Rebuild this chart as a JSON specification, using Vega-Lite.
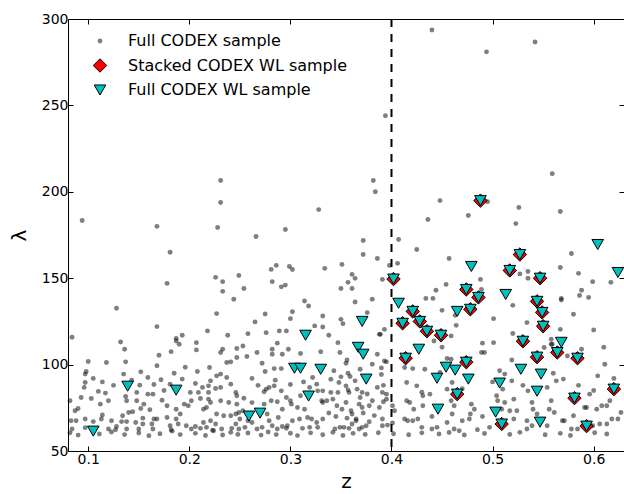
{
"$schema": "https://vega.github.io/schema/vega-lite/v6.json",
"width": 556, "height": 432,
"autosize": {"type": "none"},
"padding": {"left": 68, "top": 19, "right": 0, "bottom": 43},
"background": "white",
"config": {
  "view": {"stroke": null},
  "font": "DejaVu Sans",
  "mark": {"opacity": 1},
  "axis": {"domainColor": "black", "domainWidth": 1, "tickColor": "black", "tickWidth": 1, "tickSize": -5, "labelColor": "black", "labelFont": "DejaVu Sans", "labelFontSize": 14, "titleFont": "DejaVu Sans", "titleFontSize": 20, "titleFontWeight": "normal", "titleColor": "black", "grid": false}
},
"datasets": {
  "vline": [{"z": 0.4}],
  "frame": [{"lam": 50}, {"lam": 300}],
  "pts": [
{"z":0.394,"lam":244,"s":"g"},{"z":0.440,"lam":293.6,"s":"g"},{"z":0.542,"lam":286.7,"s":"g"},{"z":0.494,"lam":281,"s":"g"},{"z":0.094,"lam":183.4,"s":"g"},{"z":0.168,"lam":180,"s":"g"},{"z":0.181,"lam":165,"s":"g"},{"z":0.178,"lam":147,"s":"g"},{"z":0.231,"lam":206.5,"s":"g"},{"z":0.231,"lam":193.8,"s":"g"},{"z":0.228,"lam":179.3,"s":"g"},{"z":0.226,"lam":150.5,"s":"g"},{"z":0.233,"lam":148,"s":"g"},{"z":0.249,"lam":151.6,"s":"g"},{"z":0.254,"lam":144,"s":"g"},{"z":0.266,"lam":174.1,"s":"g"},{"z":0.281,"lam":155.1,"s":"g"},{"z":0.286,"lam":157.4,"s":"g"},{"z":0.282,"lam":148,"s":"g"},{"z":0.291,"lam":145,"s":"g"},{"z":0.295,"lam":146,"s":"g"},{"z":0.295,"lam":178.2,"s":"g"},{"z":0.299,"lam":156.8,"s":"g"},{"z":0.302,"lam":155,"s":"g"},{"z":0.328,"lam":189.7,"s":"g"},{"z":0.334,"lam":155.7,"s":"g"},{"z":0.351,"lam":158,"s":"g"},{"z":0.357,"lam":147.6,"s":"g"},{"z":0.361,"lam":152.2,"s":"g"},{"z":0.364,"lam":149.9,"s":"g"},{"z":0.361,"lam":144,"s":"g"},{"z":0.350,"lam":144,"s":"g"},{"z":0.372,"lam":171.8,"s":"g"},{"z":0.372,"lam":163.7,"s":"g"},{"z":0.382,"lam":206.5,"s":"g"},{"z":0.384,"lam":200,"s":"g"},{"z":0.386,"lam":161.4,"s":"g"},{"z":0.391,"lam":149.3,"s":"g"},{"z":0.398,"lam":157.4,"s":"g"},{"z":0.084,"lam":115.8,"s":"g"},{"z":0.128,"lam":132.6,"s":"g"},{"z":0.233,"lam":142.4,"s":"g"},{"z":0.244,"lam":137.8,"s":"g"},
{"z":0.559,"lam":210.5,"s":"g"},{"z":0.448,"lam":194.9,"s":"g"},{"z":0.436,"lam":184,"s":"g"},{"z":0.476,"lam":186.3,"s":"g"},{"z":0.526,"lam":190.9,"s":"g"},{"z":0.523,"lam":181.6,"s":"g"},{"z":0.567,"lam":188.6,"s":"g"},{"z":0.495,"lam":194.3,"s":"g"},{"z":0.407,"lam":172.4,"s":"g"},{"z":0.425,"lam":166.6,"s":"g"},{"z":0.457,"lam":161.4,"s":"g"},{"z":0.406,"lam":158.6,"s":"g"},{"z":0.578,"lam":164.3,"s":"g"},{"z":0.567,"lam":156.2,"s":"g"},{"z":0.585,"lam":152.8,"s":"g"},{"z":0.535,"lam":153.9,"s":"g"},{"z":0.527,"lam":152.5,"s":"g"},{"z":0.535,"lam":150,"s":"g"},{"z":0.488,"lam":149.3,"s":"g"},{"z":0.454,"lam":146.4,"s":"g"},{"z":0.444,"lam":143,"s":"g"},{"z":0.434,"lam":138.3,"s":"g"},{"z":0.441,"lam":138.3,"s":"g"},{"z":0.489,"lam":143.5,"s":"g"},{"z":0.599,"lam":148,"s":"g"},{"z":0.617,"lam":147.6,"s":"g"},{"z":0.588,"lam":143,"s":"g"},{"z":0.586,"lam":140,"s":"g"},{"z":0.595,"lam":138.9,"s":"g"},{"z":0.568,"lam":138.3,"s":"g"},
{"z":0.450,"lam":131.4,"s":"g"},{"z":0.463,"lam":128.5,"s":"g"},{"z":0.464,"lam":122.7,"s":"g"},{"z":0.459,"lam":116.6,"s":"g"},{"z":0.442,"lam":113.7,"s":"g"},{"z":0.501,"lam":126.6,"s":"g"},{"z":0.520,"lam":134.3,"s":"g"},{"z":0.534,"lam":124.3,"s":"g"},{"z":0.568,"lam":137.4,"s":"g"},{"z":0.580,"lam":129.1,"s":"g"},{"z":0.567,"lam":120.4,"s":"g"},{"z":0.388,"lam":117.5,"s":"g"},{"z":0.558,"lam":114.7,"s":"g"},{"z":0.559,"lam":111.8,"s":"g"},{"z":0.393,"lam":102.1,"s":"g"},{"z":0.392,"lam":78.5,"s":"g"},{"z":0.401,"lam":76.2,"s":"g"},{"z":0.401,"lam":66.2,"s":"g"},{"z":0.391,"lam":64.6,"s":"g"},
{"z":0.570,"lam":91.6,"s":"g"},{"z":0.596,"lam":82.9,"s":"g"},{"z":0.603,"lam":74.2,"s":"g"},{"z":0.591,"lam":75.2,"s":"g"},{"z":0.580,"lam":70.4,"s":"g"},{"z":0.571,"lam":67.5,"s":"g"},{"z":0.561,"lam":72.3,"s":"g"},{"z":0.554,"lam":64.6,"s":"g"},{"z":0.599,"lam":64.6,"s":"g"},{"z":0.606,"lam":65.6,"s":"g"},{"z":0.627,"lam":72.3,"s":"g"},{"z":0.608,"lam":76.2,"s":"g"},
{"z":0.168,"lam":122.0,"s":"g"},{"z":0.187,"lam":115.2,"s":"g"},{"z":0.193,"lam":117.0,"s":"g"},{"z":0.218,"lam":119.5,"s":"g"},{"z":0.227,"lam":129.5,"s":"g"},{"z":0.238,"lam":117.0,"s":"g"},{"z":0.258,"lam":117.9,"s":"g"},{"z":0.265,"lam":124.7,"s":"g"},{"z":0.275,"lam":129.3,"s":"g"},{"z":0.276,"lam":118.5,"s":"g"},{"z":0.289,"lam":119.5,"s":"g"},{"z":0.296,"lam":119.5,"s":"g"},{"z":0.300,"lam":126.6,"s":"g"},{"z":0.302,"lam":130.6,"s":"g"},{"z":0.314,"lam":136.8,"s":"g"},{"z":0.318,"lam":133.9,"s":"g"},{"z":0.324,"lam":122.4,"s":"g"},{"z":0.332,"lam":128.1,"s":"g"},{"z":0.332,"lam":121.8,"s":"g"},{"z":0.338,"lam":117.0,"s":"g"},{"z":0.350,"lam":126.2,"s":"g"},{"z":0.352,"lam":123.7,"s":"g"},{"z":0.364,"lam":136.2,"s":"g"},{"z":0.381,"lam":137.8,"s":"g"},{"z":0.376,"lam":130.1,"s":"g"},{"z":0.389,"lam":117.5,"s":"g"},{"z":0.393,"lam":120.4,"s":"g"},
{"z":0.132,"lam":113.1,"s":"g"},{"z":0.136,"lam":108.9,"s":"g"},{"z":0.187,"lam":113.7,"s":"g"},{"z":0.190,"lam":111.8,"s":"g"},{"z":0.207,"lam":112.7,"s":"g"},{"z":0.207,"lam":108.5,"s":"g"},{"z":0.182,"lam":107.5,"s":"g"},{"z":0.170,"lam":105.4,"s":"g"},{"z":0.137,"lam":101.6,"s":"g"},{"z":0.118,"lam":101.2,"s":"g"},{"z":0.100,"lam":101.8,"s":"g"},{"z":0.098,"lam":96.0,"s":"g"},{"z":0.097,"lam":94.5,"s":"g"},{"z":0.097,"lam":89.6,"s":"g"},{"z":0.096,"lam":86.8,"s":"g"},{"z":0.114,"lam":90.0,"s":"g"},{"z":0.135,"lam":94.5,"s":"g"},{"z":0.152,"lam":95.8,"s":"g"},{"z":0.168,"lam":99.3,"s":"g"},{"z":0.159,"lam":92.5,"s":"g"},{"z":0.172,"lam":91.2,"s":"g"},{"z":0.181,"lam":88.7,"s":"g"},{"z":0.193,"lam":91.6,"s":"g"},{"z":0.206,"lam":89.1,"s":"g"},{"z":0.213,"lam":86.8,"s":"g"},{"z":0.209,"lam":83.9,"s":"g"},{"z":0.201,"lam":83.9,"s":"g"},{"z":0.164,"lam":82.9,"s":"g"},{"z":0.159,"lam":82.9,"s":"g"},{"z":0.148,"lam":83.9,"s":"g"},{"z":0.151,"lam":88.1,"s":"g"},{"z":0.137,"lam":81.6,"s":"g"},{"z":0.138,"lam":79.1,"s":"g"},{"z":0.148,"lam":79.1,"s":"g"},{"z":0.155,"lam":77.1,"s":"g"},{"z":0.152,"lam":74.6,"s":"g"},{"z":0.144,"lam":72.7,"s":"g"},{"z":0.140,"lam":72.3,"s":"g"},{"z":0.134,"lam":70.4,"s":"g"},{"z":0.117,"lam":83.5,"s":"g"},{"z":0.120,"lam":79.1,"s":"g"},{"z":0.112,"lam":77.1,"s":"g"},{"z":0.103,"lam":80.4,"s":"g"},{"z":0.093,"lam":81.0,"s":"g"},{"z":0.082,"lam":79.1,"s":"g"},{"z":0.087,"lam":73.3,"s":"g"},{"z":0.090,"lam":74.6,"s":"g"},{"z":0.083,"lam":67.5,"s":"g"},{"z":0.088,"lam":67.5,"s":"g"},{"z":0.097,"lam":68.5,"s":"g"},{"z":0.105,"lam":67.0,"s":"g"},{"z":0.084,"lam":62.7,"s":"g"},{"z":0.114,"lam":70.8,"s":"g"},{"z":0.113,"lam":68.5,"s":"g"},{"z":0.123,"lam":67.5,"s":"g"},{"z":0.128,"lam":64.2,"s":"g"},{"z":0.127,"lam":62.3,"s":"g"},{"z":0.120,"lam":62.7,"s":"g"},{"z":0.133,"lam":67.0,"s":"g"},{"z":0.138,"lam":67.0,"s":"g"},{"z":0.138,"lam":62.7,"s":"g"},{"z":0.147,"lam":66.5,"s":"g"},{"z":0.150,"lam":62.7,"s":"g"},{"z":0.154,"lam":65.6,"s":"g"},{"z":0.154,"lam":69.0,"s":"g"},{"z":0.161,"lam":73.9,"s":"g"},{"z":0.165,"lam":68.5,"s":"g"},{"z":0.163,"lam":65.6,"s":"g"},{"z":0.164,"lam":62.7,"s":"g"},{"z":0.168,"lam":68.5,"s":"g"},{"z":0.173,"lam":79.4,"s":"g"},{"z":0.178,"lam":76.2,"s":"g"},{"z":0.178,"lam":69.4,"s":"g"},{"z":0.181,"lam":64.6,"s":"g"},{"z":0.182,"lam":62.3,"s":"g"},{"z":0.187,"lam":68.5,"s":"g"},{"z":0.189,"lam":65.6,"s":"g"},{"z":0.191,"lam":71.4,"s":"g"},{"z":0.187,"lam":74.2,"s":"g"},{"z":0.195,"lam":77.1,"s":"g"},{"z":0.199,"lam":76.2,"s":"g"},{"z":0.202,"lam":79.1,"s":"g"},{"z":0.211,"lam":80.4,"s":"g"},{"z":0.214,"lam":74.2,"s":"g"},{"z":0.217,"lam":75.2,"s":"g"},{"z":0.219,"lam":80.0,"s":"g"},{"z":0.221,"lam":78.1,"s":"g"},{"z":0.231,"lam":79.1,"s":"g"},{"z":0.219,"lam":83.9,"s":"g"},{"z":0.219,"lam":87.7,"s":"g"},{"z":0.221,"lam":90.6,"s":"g"},{"z":0.227,"lam":93.5,"s":"g"},{"z":0.231,"lam":94.5,"s":"g"},{"z":0.237,"lam":92.5,"s":"g"},{"z":0.241,"lam":88.7,"s":"g"},{"z":0.246,"lam":83.9,"s":"g"},{"z":0.247,"lam":82.0,"s":"g"},{"z":0.239,"lam":78.1,"s":"g"},{"z":0.247,"lam":77.1,"s":"g"},{"z":0.227,"lam":71.4,"s":"g"},{"z":0.234,"lam":70.4,"s":"g"},{"z":0.241,"lam":70.4,"s":"g"},{"z":0.246,"lam":71.4,"s":"g"},{"z":0.249,"lam":72.3,"s":"g"},{"z":0.253,"lam":73.3,"s":"g"},{"z":0.250,"lam":68.5,"s":"g"},{"z":0.246,"lam":65.6,"s":"g"},{"z":0.242,"lam":63.1,"s":"g"},{"z":0.232,"lam":62.7,"s":"g"},{"z":0.226,"lam":65.6,"s":"g"},{"z":0.221,"lam":67.5,"s":"g"},{"z":0.217,"lam":63.7,"s":"g"},{"z":0.214,"lam":66.5,"s":"g"},{"z":0.211,"lam":63.1,"s":"g"},{"z":0.206,"lam":64.2,"s":"g"},{"z":0.202,"lam":62.7,"s":"g"},{"z":0.197,"lam":64.6,"s":"g"},{"z":0.224,"lam":61.7,"s":"g"},{"z":0.249,"lam":62.7,"s":"g"},{"z":0.255,"lam":63.7,"s":"g"},{"z":0.258,"lam":67.5,"s":"g"},{"z":0.231,"lam":107.0,"s":"g"},{"z":0.233,"lam":108.9,"s":"g"},{"z":0.241,"lam":101.6,"s":"g"},{"z":0.237,"lam":101.2,"s":"g"},{"z":0.247,"lam":104.1,"s":"g"},{"z":0.247,"lam":109.3,"s":"g"},{"z":0.253,"lam":110.8,"s":"g"},{"z":0.257,"lam":104.7,"s":"g"},{"z":0.220,"lam":98.3,"s":"g"},{"z":0.231,"lam":86.8,"s":"g"},{"z":0.226,"lam":86.2,"s":"g"},
{"z":0.287,"lam":112.4,"s":"g"},{"z":0.282,"lam":108.9,"s":"g"},{"z":0.282,"lam":106.0,"s":"g"},{"z":0.267,"lam":107.0,"s":"g"},{"z":0.272,"lam":100.8,"s":"g"},{"z":0.292,"lam":106.0,"s":"g"},{"z":0.298,"lam":108.9,"s":"g"},{"z":0.310,"lam":106.4,"s":"g"},{"z":0.330,"lam":107.4,"s":"g"},{"z":0.347,"lam":112.7,"s":"g"},{"z":0.349,"lam":107.0,"s":"g"},{"z":0.356,"lam":102.7,"s":"g"},{"z":0.355,"lam":100.8,"s":"g"},{"z":0.284,"lam":97.7,"s":"g"},{"z":0.291,"lam":97.7,"s":"g"},{"z":0.343,"lam":96.4,"s":"g"},{"z":0.350,"lam":92.9,"s":"g"},{"z":0.357,"lam":95.0,"s":"g"},{"z":0.359,"lam":93.1,"s":"g"},{"z":0.369,"lam":97.3,"s":"g"},{"z":0.381,"lam":100.2,"s":"g"},{"z":0.386,"lam":106.0,"s":"g"},{"z":0.390,"lam":98.1,"s":"g"},{"z":0.390,"lam":94.3,"s":"g"},{"z":0.395,"lam":101.6,"s":"g"},
{"z":0.276,"lam":85.8,"s":"g"},{"z":0.274,"lam":84.3,"s":"g"},{"z":0.279,"lam":86.8,"s":"g"},{"z":0.291,"lam":84.8,"s":"g"},{"z":0.284,"lam":87.7,"s":"g"},{"z":0.319,"lam":86.8,"s":"g"},{"z":0.326,"lam":88.7,"s":"g"},{"z":0.327,"lam":84.8,"s":"g"},{"z":0.332,"lam":84.8,"s":"g"},{"z":0.340,"lam":83.9,"s":"g"},{"z":0.348,"lam":89.6,"s":"g"},{"z":0.347,"lam":83.9,"s":"g"},{"z":0.355,"lam":87.7,"s":"g"},{"z":0.357,"lam":85.4,"s":"g"},{"z":0.358,"lam":83.9,"s":"g"},{"z":0.364,"lam":90.6,"s":"g"},{"z":0.366,"lam":85.8,"s":"g"},{"z":0.371,"lam":83.9,"s":"g"},{"z":0.369,"lam":81.0,"s":"g"},{"z":0.386,"lam":86.8,"s":"g"},{"z":0.391,"lam":83.9,"s":"g"},{"z":0.395,"lam":82.9,"s":"g"},{"z":0.395,"lam":80.0,"s":"g"},
{"z":0.281,"lam":79.1,"s":"g"},{"z":0.274,"lam":77.1,"s":"g"},{"z":0.287,"lam":78.5,"s":"g"},{"z":0.296,"lam":81.0,"s":"g"},{"z":0.300,"lam":79.1,"s":"g"},{"z":0.301,"lam":77.1,"s":"g"},{"z":0.307,"lam":75.2,"s":"g"},{"z":0.314,"lam":74.2,"s":"g"},{"z":0.317,"lam":69.4,"s":"g"},{"z":0.321,"lam":68.5,"s":"g"},{"z":0.331,"lam":79.1,"s":"g"},{"z":0.332,"lam":78.1,"s":"g"},{"z":0.336,"lam":79.1,"s":"g"},{"z":0.342,"lam":80.0,"s":"g"},{"z":0.346,"lam":76.2,"s":"g"},{"z":0.351,"lam":74.2,"s":"g"},{"z":0.355,"lam":78.1,"s":"g"},{"z":0.360,"lam":73.3,"s":"g"},{"z":0.361,"lam":71.4,"s":"g"},{"z":0.365,"lam":68.5,"s":"g"},{"z":0.368,"lam":77.1,"s":"g"},{"z":0.371,"lam":75.2,"s":"g"},{"z":0.378,"lam":76.2,"s":"g"},{"z":0.381,"lam":79.1,"s":"g"},{"z":0.388,"lam":75.2,"s":"g"},
{"z":0.262,"lam":66.5,"s":"g"},{"z":0.267,"lam":62.7,"s":"g"},{"z":0.272,"lam":63.7,"s":"g"},{"z":0.279,"lam":67.5,"s":"g"},{"z":0.282,"lam":64.6,"s":"g"},{"z":0.287,"lam":62.7,"s":"g"},{"z":0.292,"lam":64.2,"s":"g"},{"z":0.296,"lam":63.1,"s":"g"},{"z":0.297,"lam":64.6,"s":"g"},{"z":0.302,"lam":67.5,"s":"g"},{"z":0.309,"lam":68.5,"s":"g"},{"z":0.312,"lam":63.1,"s":"g"},{"z":0.319,"lam":63.7,"s":"g"},{"z":0.326,"lam":66.5,"s":"g"},{"z":0.327,"lam":63.7,"s":"g"},{"z":0.332,"lam":68.5,"s":"g"},{"z":0.344,"lam":62.7,"s":"g"},{"z":0.349,"lam":63.7,"s":"g"},{"z":0.353,"lam":63.7,"s":"g"},{"z":0.358,"lam":63.1,"s":"g"},{"z":0.361,"lam":65.6,"s":"g"},{"z":0.365,"lam":67.5,"s":"g"},{"z":0.368,"lam":62.7,"s":"g"},{"z":0.371,"lam":63.7,"s":"g"},{"z":0.375,"lam":64.6,"s":"g"},{"z":0.378,"lam":66.9,"s":"g"},{"z":0.391,"lam":68.5,"s":"g"},{"z":0.396,"lam":65.0,"s":"g"},{"z":0.292,"lam":74.2,"s":"g"},{"z":0.288,"lam":69.4,"s":"g"},{"z":0.277,"lam":71.4,"s":"g"},
{"z":0.413,"lam":98.3,"s":"g"},{"z":0.421,"lam":97.7,"s":"g"},{"z":0.433,"lam":97.3,"s":"g"},{"z":0.415,"lam":89.6,"s":"g"},{"z":0.425,"lam":87.7,"s":"g"},{"z":0.431,"lam":82.0,"s":"g"},{"z":0.438,"lam":82.9,"s":"g"},{"z":0.415,"lam":79.1,"s":"g"},{"z":0.418,"lam":78.1,"s":"g"},{"z":0.422,"lam":74.2,"s":"g"},{"z":0.431,"lam":76.2,"s":"g"},{"z":0.413,"lam":68.5,"s":"g"},{"z":0.416,"lam":67.5,"s":"g"},{"z":0.421,"lam":67.5,"s":"g"},{"z":0.426,"lam":68.5,"s":"g"},{"z":0.430,"lam":63.7,"s":"g"},{"z":0.440,"lam":62.7,"s":"g"},{"z":0.445,"lam":63.7,"s":"g"},{"z":0.403,"lam":73.3,"s":"g"},
{"z":0.490,"lam":112.4,"s":"g"},{"z":0.492,"lam":107.0,"s":"g"},{"z":0.489,"lam":107.0,"s":"g"},{"z":0.501,"lam":112.7,"s":"g"},{"z":0.455,"lam":103.5,"s":"g"},{"z":0.459,"lam":103.1,"s":"g"},{"z":0.448,"lam":95.4,"s":"g"},{"z":0.460,"lam":89.6,"s":"g"},{"z":0.455,"lam":85.8,"s":"g"},{"z":0.459,"lam":79.1,"s":"g"},{"z":0.462,"lam":76.2,"s":"g"},{"z":0.479,"lam":77.1,"s":"g"},{"z":0.482,"lam":74.2,"s":"g"},{"z":0.478,"lam":71.4,"s":"g"},{"z":0.477,"lam":68.5,"s":"g"},{"z":0.470,"lam":67.5,"s":"g"},{"z":0.460,"lam":71.4,"s":"g"},{"z":0.455,"lam":66.5,"s":"g"},{"z":0.462,"lam":62.7,"s":"g"},{"z":0.467,"lam":61.7,"s":"g"},{"z":0.485,"lam":62.3,"s":"g"},{"z":0.507,"lam":96.4,"s":"g"},{"z":0.512,"lam":94.5,"s":"g"},{"z":0.510,"lam":85.8,"s":"g"},{"z":0.504,"lam":82.0,"s":"g"},{"z":0.505,"lam":79.1,"s":"g"},{"z":0.512,"lam":78.1,"s":"g"},{"z":0.509,"lam":74.2,"s":"g"},{"z":0.521,"lam":80.0,"s":"g"},{"z":0.524,"lam":73.3,"s":"g"},{"z":0.517,"lam":73.3,"s":"g"},{"z":0.521,"lam":68.5,"s":"g"},{"z":0.497,"lam":63.7,"s":"g"},{"z":0.519,"lam":90.6,"s":"g"},{"z":0.535,"lam":84.8,"s":"g"},{"z":0.539,"lam":78.1,"s":"g"},{"z":0.540,"lam":74.2,"s":"g"},{"z":0.544,"lam":71.4,"s":"g"},{"z":0.534,"lam":67.5,"s":"g"},{"z":0.534,"lam":62.7,"s":"g"},{"z":0.539,"lam":64.6,"s":"g"},{"z":0.556,"lam":74.2,"s":"g"},{"z":0.558,"lam":79.1,"s":"g"},{"z":0.554,"lam":86.8,"s":"g"},{"z":0.563,"lam":90.6,"s":"g"},{"z":0.569,"lam":67.5,"s":"g"},{"z":0.578,"lam":62.7,"s":"g"},{"z":0.584,"lam":62.7,"s":"g"},{"z":0.593,"lam":75.2,"s":"g"},{"z":0.613,"lam":65.6,"s":"g"},{"z":0.618,"lam":68.5,"s":"g"},{"z":0.624,"lam":68.5,"s":"g"},{"z":0.613,"lam":76.2,"s":"g"},{"z":0.616,"lam":79.1,"s":"g"},{"z":0.604,"lam":93.5,"s":"g"},{"z":0.611,"lam":100.2,"s":"g"},{"z":0.588,"lam":108.9,"s":"g"},{"z":0.574,"lam":105.0,"s":"g"},{"z":0.519,"lam":102.7,"s":"g"},{"z":0.558,"lam":111.8,"s":"g"},{"z":0.551,"lam":109.9,"s":"g"},
{"z":0.082,"lam":60.5,"s":"g"},{"z":0.090,"lam":59.2,"s":"g"},{"z":0.097,"lam":63.5,"s":"g"},{"z":0.111,"lam":59.8,"s":"g"},{"z":0.123,"lam":61.0,"s":"g"},{"z":0.136,"lam":59.5,"s":"g"},{"z":0.150,"lam":60.4,"s":"g"},{"z":0.160,"lam":58.8,"s":"g"},{"z":0.171,"lam":60.0,"s":"g"},{"z":0.183,"lam":61.5,"s":"g"},{"z":0.191,"lam":59.5,"s":"g"},{"z":0.206,"lam":60.2,"s":"g"},{"z":0.216,"lam":59.0,"s":"g"},{"z":0.223,"lam":62.0,"s":"g"},{"z":0.233,"lam":59.3,"s":"g"},{"z":0.241,"lam":60.8,"s":"g"},{"z":0.248,"lam":59.6,"s":"g"},{"z":0.258,"lam":60.4,"s":"g"},{"z":0.271,"lam":59.2,"s":"g"},{"z":0.278,"lam":61.0,"s":"g"},{"z":0.286,"lam":59.5,"s":"g"},{"z":0.300,"lam":60.3,"s":"g"},{"z":0.307,"lam":58.9,"s":"g"},{"z":0.320,"lam":60.5,"s":"g"},{"z":0.332,"lam":59.4,"s":"g"},{"z":0.342,"lam":60.8,"s":"g"},{"z":0.352,"lam":59.0,"s":"g"},{"z":0.362,"lam":60.2,"s":"g"},{"z":0.374,"lam":59.6,"s":"g"},{"z":0.387,"lam":60.6,"s":"g"},{"z":0.402,"lam":60.0,"s":"g"},{"z":0.417,"lam":59.4,"s":"g"},{"z":0.430,"lam":60.5,"s":"g"},{"z":0.447,"lam":59.8,"s":"g"},{"z":0.457,"lam":60.7,"s":"g"},{"z":0.472,"lam":59.3,"s":"g"},{"z":0.492,"lam":60.1,"s":"g"},{"z":0.517,"lam":59.6,"s":"g"},{"z":0.527,"lam":60.8,"s":"g"},{"z":0.552,"lam":59.4,"s":"g"},{"z":0.567,"lam":60.2,"s":"g"},{"z":0.577,"lam":59.0,"s":"g"},{"z":0.601,"lam":60.6,"s":"g"},{"z":0.613,"lam":59.8,"s":"g"},
{"z":0.262,"lam":78.0,"s":"g"},{"z":0.268,"lam":88.0,"s":"g"},{"z":0.285,"lam":91.0,"s":"g"},{"z":0.300,"lam":88.5,"s":"g"},{"z":0.310,"lam":82.0,"s":"g"},{"z":0.322,"lam":92.5,"s":"g"},{"z":0.338,"lam":72.0,"s":"g"},{"z":0.345,"lam":70.0,"s":"g"},{"z":0.356,"lam":69.0,"s":"g"},{"z":0.372,"lam":72.0,"s":"g"},{"z":0.383,"lam":70.5,"s":"g"},{"z":0.392,"lam":88.0,"s":"g"},{"z":0.376,"lam":83.0,"s":"g"},{"z":0.340,"lam":91.5,"s":"g"},{"z":0.313,"lam":90.0,"s":"g"},{"z":0.254,"lam":80.5,"s":"g"},{"z":0.262,"lam":92.0,"s":"g"},{"z":0.275,"lam":96.0,"s":"g"},{"z":0.105,"lam":92.0,"s":"g"},{"z":0.110,"lam":84.5,"s":"g"},{"z":0.125,"lam":88.0,"s":"g"},{"z":0.143,"lam":91.0,"s":"g"},{"z":0.165,"lam":88.5,"s":"g"},{"z":0.185,"lam":95.0,"s":"g"},{"z":0.196,"lam":98.5,"s":"g"},{"z":0.208,"lam":96.0,"s":"g"},{"z":0.175,"lam":85.0,"s":"g"},
{"z":0.430,"lam":84.0,"s":"g"},{"z":0.440,"lam":70.0,"s":"g"},{"z":0.490,"lam":70.0,"s":"g"},{"z":0.500,"lam":90.0,"s":"g"},{"z":0.530,"lam":88.0,"s":"g"},{"z":0.560,"lam":95.0,"s":"g"},{"z":0.585,"lam":88.0,"s":"g"},{"z":0.600,"lam":85.0,"s":"g"},{"z":0.620,"lam":92.0,"s":"g"},{"z":0.470,"lam":86.0,"s":"g"},{"z":0.450,"lam":110.0,"s":"g"},{"z":0.520,"lam":118.0,"s":"g"},{"z":0.600,"lam":120.0,"s":"g"},{"z":0.610,"lam":110.0,"s":"g"},
{"z":0.402,"lam":149.5,"s":"d"},{"z":0.488,"lam":194.9,"s":"d"},{"z":0.527,"lam":163.7,"s":"d"},{"z":0.517,"lam":154.5,"s":"d"},{"z":0.547,"lam":150,"s":"d"},{"z":0.474,"lam":143.5,"s":"d"},{"z":0.486,"lam":138.9,"s":"d"},{"z":0.544,"lam":136.6,"s":"d"},{"z":0.421,"lam":130.8,"s":"d"},{"z":0.478,"lam":132,"s":"d"},{"z":0.549,"lam":130.2,"s":"d"},{"z":0.428,"lam":125,"s":"d"},{"z":0.411,"lam":123.9,"s":"d"},{"z":0.550,"lam":122.2,"s":"d"},{"z":0.435,"lam":119.3,"s":"d"},{"z":0.449,"lam":117,"s":"d"},{"z":0.530,"lam":113.5,"s":"d"},{"z":0.564,"lam":107,"s":"d"},{"z":0.414,"lam":103.7,"s":"d"},{"z":0.474,"lam":101.4,"s":"d"},{"z":0.544,"lam":104.3,"s":"d"},{"z":0.584,"lam":103.7,"s":"d"},{"z":0.620,"lam":85.8,"s":"d"},{"z":0.465,"lam":82.9,"s":"d"},{"z":0.581,"lam":80.6,"s":"d"},{"z":0.509,"lam":65.6,"s":"d"},{"z":0.593,"lam":64.4,"s":"d"},
{"z":0.402,"lam":149.5,"s":"t"},{"z":0.488,"lam":194.9,"s":"t"},{"z":0.527,"lam":163.7,"s":"t"},{"z":0.479,"lam":156.8,"s":"t"},{"z":0.517,"lam":154.5,"s":"t"},{"z":0.547,"lam":150,"s":"t"},{"z":0.604,"lam":169.5,"s":"t"},{"z":0.624,"lam":153.3,"s":"t"},{"z":0.474,"lam":143.5,"s":"t"},{"z":0.486,"lam":138.9,"s":"t"},{"z":0.513,"lam":140.6,"s":"t"},{"z":0.407,"lam":135.5,"s":"t"},{"z":0.544,"lam":136.6,"s":"t"},{"z":0.421,"lam":130.8,"s":"t"},{"z":0.465,"lam":130.8,"s":"t"},{"z":0.478,"lam":132,"s":"t"},{"z":0.549,"lam":130.2,"s":"t"},{"z":0.428,"lam":125,"s":"t"},{"z":0.411,"lam":123.9,"s":"t"},{"z":0.550,"lam":122.2,"s":"t"},{"z":0.435,"lam":119.3,"s":"t"},{"z":0.449,"lam":117,"s":"t"},{"z":0.530,"lam":113.5,"s":"t"},{"z":0.568,"lam":112.9,"s":"t"},{"z":0.427,"lam":108.9,"s":"t"},{"z":0.564,"lam":107,"s":"t"},{"z":0.414,"lam":103.7,"s":"t"},{"z":0.474,"lam":101.4,"s":"t"},{"z":0.544,"lam":104.3,"s":"t"},{"z":0.584,"lam":103.7,"s":"t"},{"z":0.454,"lam":98.5,"s":"t"},{"z":0.463,"lam":96.8,"s":"t"},{"z":0.528,"lam":97.3,"s":"t"},{"z":0.548,"lam":94.5,"s":"t"},{"z":0.445,"lam":92.1,"s":"t"},{"z":0.476,"lam":91.6,"s":"t"},{"z":0.507,"lam":89.3,"s":"t"},{"z":0.620,"lam":85.8,"s":"t"},{"z":0.544,"lam":84.6,"s":"t"},{"z":0.465,"lam":82.9,"s":"t"},{"z":0.581,"lam":80.6,"s":"t"},{"z":0.446,"lam":74.2,"s":"t"},{"z":0.503,"lam":72.5,"s":"t"},{"z":0.509,"lam":65.6,"s":"t"},{"z":0.547,"lam":66.7,"s":"t"},{"z":0.593,"lam":64.4,"s":"t"},
{"z":0.105,"lam":61.5,"s":"t"},{"z":0.139,"lam":87.5,"s":"t"},{"z":0.187,"lam":85.2,"s":"t"},{"z":0.259,"lam":70.2,"s":"t"},{"z":0.270,"lam":71.9,"s":"t"},{"z":0.304,"lam":97.9,"s":"t"},{"z":0.310,"lam":97.9,"s":"t"},{"z":0.330,"lam":97.3,"s":"t"},{"z":0.315,"lam":117,"s":"t"},{"z":0.318,"lam":81.8,"s":"t"},{"z":0.371,"lam":125,"s":"t"},{"z":0.367,"lam":110,"s":"t"},{"z":0.372,"lam":106,"s":"t"},{"z":0.375,"lam":91.6,"s":"t"}
  ]
},
"layer": [
  {
    "data": {"name": "vline"},
    "mark": {"type": "rule", "strokeDash": [8, 7], "strokeWidth": 2, "color": "black"},
    "encoding": {
      "x": {"field": "z", "type": "quantitative", "scale": {"domain": [0.08, 0.63], "nice": false, "zero": false},
            "axis": {"orient": "top", "values": [0.1, 0.2, 0.3, 0.4, 0.5, 0.6], "labels": false, "title": null}}
    }
  },
  {
    "data": {"name": "frame"},
    "mark": {"type": "point", "opacity": 0},
    "encoding": {
      "y": {"field": "lam", "type": "quantitative", "scale": {"domain": [50, 300], "nice": false, "zero": false},
            "axis": {"orient": "right", "values": [50, 100, 150, 200, 250, 300], "labels": false, "domain": false, "title": null}}
    }
  },
  {
    "data": {"name": "pts"},
    "mark": {"type": "point", "filled": true, "stroke": "black", "opacity": 1},
    "encoding": {
      "x": {"field": "z", "type": "quantitative", "scale": {"domain": [0.08, 0.63], "nice": false, "zero": false},
            "axis": {"orient": "bottom", "values": [0.1, 0.2, 0.3, 0.4, 0.5, 0.6], "format": ".1f", "labelPadding": 6, "labelColor": "#000000", "title": "z", "titleX": 278, "titleY": 36, "titleBaseline": "alphabetic"}},
      "y": {"field": "lam", "type": "quantitative", "scale": {"domain": [50, 300], "nice": false, "zero": false},
            "axis": {"orient": "left", "values": [50, 100, 150, 200, 250, 300], "labelPadding": 5, "labelColor": "#000000", "title": "λ", "titleX": -43, "titleY": 216, "titleAlign": "center", "titleBaseline": "alphabetic", "titleAngle": -90}},
      "fill": {"field": "s", "type": "nominal", "scale": {"domain": ["g", "d", "t"], "range": ["rgba(0,0,0,0.5)", "#ff0000", "#00bfbf"]},
               "legend": {"orient": "none", "legendX": 24, "legendY": 14, "title": null, "padding": 0, "labelFont": "DejaVu Sans", "labelFontSize": 16, "labelColor": "black", "labelOffset": 20, "labelLimit": 400, "rowPadding": 7.5, "symbolStrokeColor": "black", "symbolOpacity": 1,
                          "labelExpr": "datum.label == 'g' ? 'Full CODEX sample' : datum.label == 'd' ? 'Stacked CODEX WL sample' : 'Full CODEX WL sample'"}},
      "shape": {"field": "s", "type": "nominal", "scale": {"domain": ["g", "d", "t"], "range": ["circle", "diamond", "triangle-down"]}},
      "size": {"field": "s", "type": "nominal", "scale": {"type": "ordinal", "domain": ["g", "d", "t"], "range": [24, 180, 135]}},
      "strokeWidth": {"field": "s", "type": "nominal", "scale": {"type": "ordinal", "domain": ["g", "d", "t"], "range": [0, 1, 1]}}
    }
  }
],
"resolve": {"axis": {"x": "independent", "y": "independent"}}
}
